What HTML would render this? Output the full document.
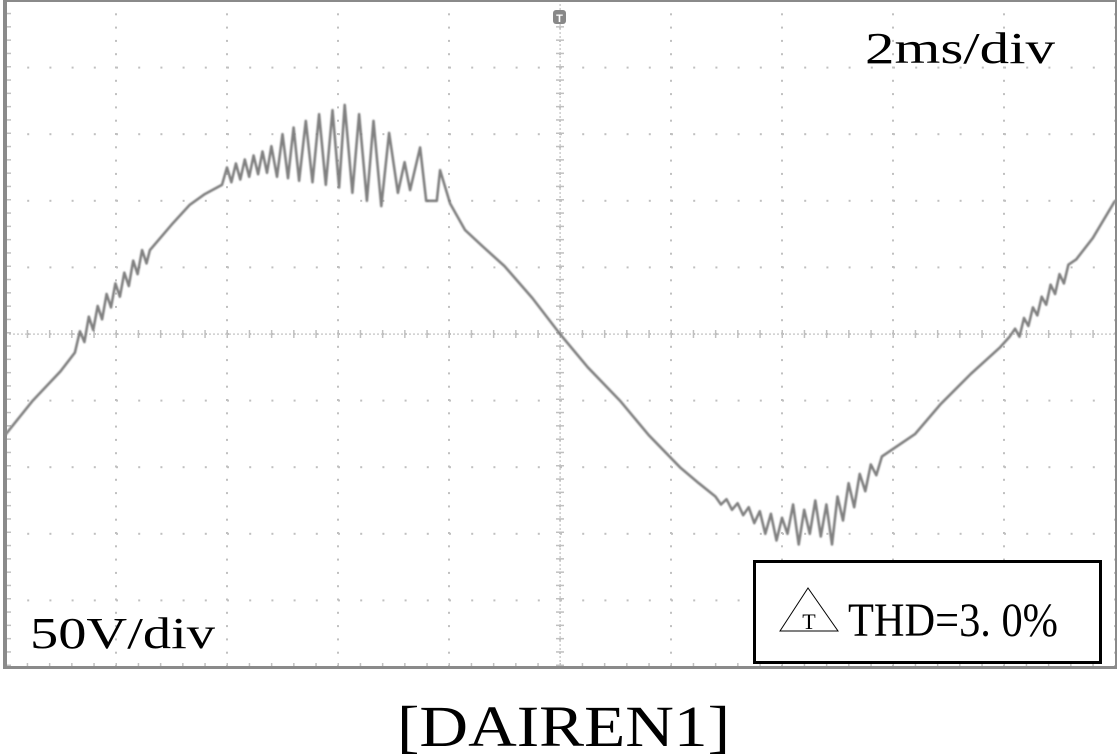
<!DOCTYPE html>
<html><head><meta charset="utf-8"><style>
html,body{margin:0;padding:0;background:#fff;width:1119px;height:754px;overflow:hidden}
svg{display:block}
</style></head><body>
<svg id="scope" width="1119" height="754" viewBox="0 0 1119 754" xmlns="http://www.w3.org/2000/svg">
<defs><filter id="blur" x="-5%" y="-5%" width="110%" height="110%"><feGaussianBlur stdDeviation="0.8"/></filter></defs>
<g id="grid"></g>
<path id="trace" fill="none" stroke="#808080" stroke-width="2.6" stroke-linejoin="round" filter="url(#blur)"/>
<rect x="3" y="0" width="4" height="669" fill="#8a8a8a"/>
<rect x="3" y="666" width="1114" height="3" fill="#8a8a8a"/>
<rect x="3" y="0" width="1114" height="2" fill="#8a8a8a"/>
<rect x="1115" y="0" width="2" height="669" fill="#8a8a8a"/>
<g><rect x="553" y="10" width="13" height="14" rx="3" fill="#888"/><text x="559.5" y="22" font-size="11" fill="#fff" text-anchor="middle" font-family="Liberation Sans, sans-serif" font-weight="bold">T</text></g>
<text x="865" y="63" font-family="Liberation Serif, serif" font-size="44" textLength="190" lengthAdjust="spacingAndGlyphs">2ms/div</text>
<text x="30" y="648" font-family="Liberation Serif, serif" font-size="44" textLength="185" lengthAdjust="spacingAndGlyphs">50V/div</text>
<g>
<rect x="754.5" y="561.5" width="346" height="101" fill="#fff" stroke="#000" stroke-width="3"/>
<polygon points="780,631 808,588 838,631" fill="none" stroke="#000" stroke-width="1"/>
<text x="809" y="629" font-family="Liberation Serif, serif" font-size="22" text-anchor="middle">T</text>
<text x="848" y="636" font-family="Liberation Serif, serif" font-size="48" textLength="210" lengthAdjust="spacingAndGlyphs">THD=3. 0%</text>
</g>
<text x="397" y="746" font-family="Liberation Serif, serif" font-size="58" textLength="333" lengthAdjust="spacingAndGlyphs">[DAIREN1]</text>
</svg>
<script>
const timeMs=[0,0.5,1.0,1.26,1.35,1.43,1.51,1.59,1.67,1.75,1.83,1.91,1.99,2.07,2.15,2.23,2.31,2.39,2.47,2.55,2.61,3.0,3.33,3.6,3.91,4.0,4.08,4.16,4.24,4.32,4.40,4.48,4.56,4.64,4.72,4.80,4.90,5.0,5.1,5.2,5.3,5.42,5.54,5.66,5.78,5.9,6.02,6.12,6.26,6.38,6.52,6.64,6.78,6.92,7.08,7.2,7.3,7.48,7.59,7.78,7.84,8.02,8.29,8.6,9.0,9.5,10.0,10.5,11.08,11.6,12.16,12.5,12.8,12.9,13.0,13.1,13.2,13.3,13.4,13.5,13.6,13.7,13.8,13.9,14.0,14.1,14.2,14.3,14.4,14.5,14.6,14.7,14.8,14.9,15.0,15.1,15.2,15.3,15.4,15.5,15.6,15.7,15.8,16.4,16.85,17.4,17.93,18.1,18.2,18.28,18.36,18.44,18.52,18.6,18.68,18.76,18.84,18.92,19.0,19.08,19.16,19.3,19.6,20.0];
const volts=[-76,-50,-28,-14,2,-6,13,3,21,11,30,20,38,28,46,36,55,45,63,53,63,82,97,105,112,125,114,128,116,131,118,134,120,137,121,141,118,150,117,155,115,160,114,165,112,168,110,172,106,165,100,160,96,151,106,129,108,140,100,100,123,98,78,66,51,27,0,-25,-50,-76,-100,-112,-122,-128,-124,-132,-127,-136,-130,-142,-133,-150,-135,-155,-138,-150,-128,-158,-132,-150,-125,-152,-128,-158,-122,-140,-112,-130,-105,-118,-98,-106,-92,-75,-53,-30,-10,-2,4,-2,12,6,20,14,28,22,37,30,45,38,52,56,72,100];
const xTicks=[0,1,2,3,4,5,6,7,8,9,10];
const yTicks=[-4,-3,-2,-1,0,1,2,3,4];
const X0=5,DX=111,Y0=334,DY=66.6;
function xs(t){return X0+t/2*DX;}
function ys(v){return Y0-v/50*DY;}
const NS='http://www.w3.org/2000/svg';
const grid=document.getElementById('grid');
function dot(x,y,w,h){const r=document.createElementNS(NS,'rect');r.setAttribute('x',x);r.setAttribute('y',y);r.setAttribute('width',w);r.setAttribute('height',h);r.setAttribute('fill','#c0c0c0');


grid.appendChild(r);}
xTicks.forEach(i=>{const x=X0+i*DX;for(let y=0;y<667;y+=13.3){dot(x-1,y,2,2);}});
yTicks.forEach(j=>{const y=Y0+j*DY;for(let x=X0;x<1115;x+=22.2){dot(x,y-1,2,2);}});
for(let x=X0;x<1115;x+=22.2){dot(x-0.5,Y0-4,1.5,8);dot(x-0.5,663,1.5,4);}
for(let y=0;y<667;y+=13.3){dot(556,y-0.5,8,1.5);dot(7,y-0.5,4,1.5);}
for(let x=X0;x<1115;x+=4){dot(x,Y0-0.5,2,1.2);}
for(let y=0;y<667;y+=4){dot(559.5,y,1.2,2);}
let d='';
timeMs.forEach((t,i)=>{d+=(i?'L':'M')+xs(t).toFixed(1)+' '+ys(volts[i]).toFixed(1)+' ';});
document.getElementById('trace').setAttribute('d',d);
</script>
</body></html>
